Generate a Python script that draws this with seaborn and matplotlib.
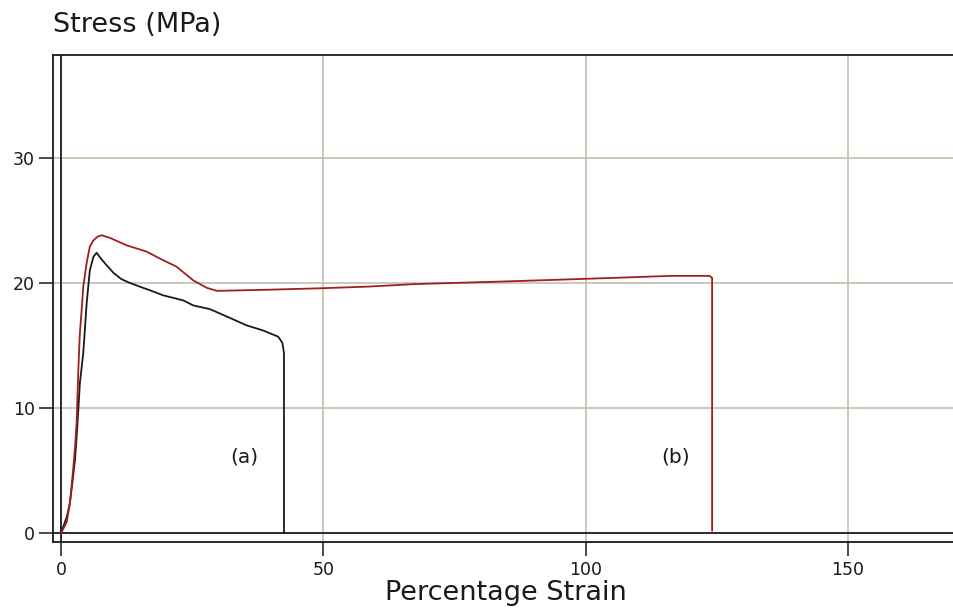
import numpy as np
import pandas as pd
import matplotlib
matplotlib.use("Agg")
import matplotlib.pyplot as plt
import seaborn as sns

# Stress-strain curves for two specimens
strain_a = [0, 0.5, 1.1, 1.7, 2.3, 2.7, 3.0, 3.3, 3.6, 4.25, 4.9, 5.5, 6.2, 6.8,
            7.5, 8.5, 10.0, 11.5, 13.1, 15.0, 17.0, 19.5, 23.3, 25.2, 28.4, 32.2,
            35.4, 38.5, 41.4, 42.2, 42.5, 42.5]
stress_a = [0, 0.6, 1.3, 2.4, 4.5, 6.0, 7.8, 9.8, 12.0, 14.4, 18.4, 21.0, 22.1, 22.4,
            22.0, 21.5, 20.8, 20.3, 20.0, 19.7, 19.4, 19.0, 18.6, 18.2, 17.9, 17.2,
            16.6, 16.2, 15.7, 15.2, 14.4, 0.0]

strain_b = [0, 0.5, 1.1, 1.7, 2.3, 2.7, 3.0, 3.3, 3.6, 3.9, 4.25, 4.9, 5.5, 6.2,
            7.0, 7.75, 9.3, 12.5, 16.3, 19.5, 22.0, 25.2, 27.8, 29.7, 38.5, 49.7,
            58.5, 67.4, 75.4, 83.6, 94.1, 105.5, 116.4, 123.6, 124.1, 124.1]
stress_b = [0, 0.4, 0.9, 2.4, 5.0, 7.0, 9.0, 13.0, 16.0, 17.6, 19.7, 21.6, 22.9, 23.4,
            23.7, 23.8, 23.6, 23.0, 22.5, 21.8, 21.3, 20.2, 19.6, 19.36, 19.44, 19.57,
            19.7, 19.9, 20.0, 20.1, 20.24, 20.4, 20.56, 20.56, 20.4, 0.2]

x_ticks = [0, 50, 100, 150]
y_ticks = [0, 10, 20, 30]
curve_labels = ["(a)", "(b)"]
label_pos_x = [34.9, 117.1]
label_pos_y = [6.1, 6.1]

sns.set_theme(style="white")
plt.rcParams["font.family"] = ["DejaVu Sans"]

fig = plt.figure(figsize=(9.54, 6.10), dpi=100)
ax = fig.add_axes([53 / 954, 68 / 610, 1 - 53 / 954, 487 / 610])

grid_color = "#c4c0ac"
for xv in x_ticks[1:]:
    ax.axvline(xv, color=grid_color, lw=1.2, zorder=0)
for yv in y_ticks[1:]:
    ax.axhline(yv, color=grid_color, lw=1.2, zorder=0)
ax.axhline(0, color="#1a1a1a", lw=1.3, zorder=1)
ax.axvline(0, color="#1a1a1a", lw=1.3, zorder=1)

df_a = pd.DataFrame({"strain": strain_a, "stress": stress_a})
df_b = pd.DataFrame({"strain": strain_b, "stress": stress_b})
sns.lineplot(data=df_a, x="strain", y="stress", sort=False, estimator=None,
             color="#1a1a1a", lw=1.3, ax=ax, zorder=3)
sns.lineplot(data=df_b, x="strain", y="stress", sort=False, estimator=None,
             color="#a01e1e", lw=1.3, ax=ax, zorder=4)

for lab, lx, ly in zip(curve_labels, label_pos_x, label_pos_y):
    ax.text(lx, ly, lab, ha="center", va="center", fontsize=14.5, color="#1a1a1a")

ax.set_xlim(-1.52, 170.2)
ax.set_ylim(-0.70, 38.2)
ax.set_xticks(x_ticks)
ax.set_yticks(y_ticks)
ax.tick_params(axis="both", direction="out", length=10, width=1.1,
               color="#1a1a1a", labelsize=12.5, labelcolor="#1a1a1a",
               bottom=True, left=True, top=False, right=False)
ax.tick_params(axis="y", pad=3)
ax.tick_params(axis="x", pad=4)

for side in ["left", "top", "bottom"]:
    ax.spines[side].set_color("#1a1a1a")
    ax.spines[side].set_linewidth(1.3)
ax.spines["right"].set_visible(False)

ax.set_xlabel("")
ax.set_ylabel("")
fig.text(506 / 954, 1 - 600 / 610, "Percentage Strain", ha="center", va="baseline",
         fontsize=19.5, color="#1a1a1a")
fig.text(53 / 954, 1 - 31.7 / 610, "Stress (MPa)", ha="left", va="baseline",
         fontsize=19.5, color="#1a1a1a")

fig.savefig("out.png", dpi=100, facecolor="white")
